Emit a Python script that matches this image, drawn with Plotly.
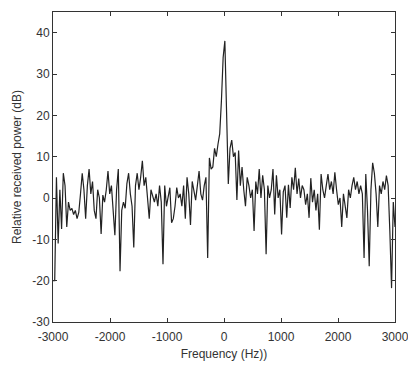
import numpy as np
import plotly.graph_objects as go

power_db = [
    -20, -20, 5, -11, 2, -7.5, 6, 3, -7, -1,
    -3, -2.5, -4, -3, -5, -3.5, 1, 6, 2, -5,
    3, 7, 1, 4, -3, -5, 2, 0, -8.7, 0.7,
    -1, 2, 6.5, 1, 3, -2, -9, 2, 7, -17.7,
    -3, -1, -2.5, 3.5, 6, 1, -2, -12, 3, 6,
    2, 5, 9, 3, 5, 0, -5, 2, 0.5, -1,
    1, -2, 3, -1, -16, 3, -2, 0, 2.5, -6,
    -5, -2, 2.5, 0, 1, -2, 3, -5, 5, 1,
    -6.5, 4, 2, -0.5, 3, 6.5, 1, -0.5, 3, 5,
    -14.5, 9.7, 7, 7.5, 12, 10, 13, 15.5, 23.5, 34,
    38,
    16, 3.4, 12, 14, 10, 11, -0.5, 11.5, 3, 7.5,
    2, -2, 5, 3, 0, 2, -8, 4, 1, 7,
    0, 5.5, 2, -13.6, 3, 0, 2, 7, -4, 5.5,
    0, 2, -8.8, 1.5, 3, -4.8, 3.2, -2.4, 5, 2,
    7.3, 1, 4.7, 0, 3, 2, -1.6, 1, -4.8, 4.8,
    -1, 2, -3, 1, -7.7, 5.8, 2, 0, 3, 5.8,
    2, 4, 1, 6.2, 2, -1.6, 0, -7, 1, -2,
    -4.8, 2, 0, 3, 5, 2, 4, 1, 3, 1,
    -14.5, 5.8, -3, -16.5, 2, 8.5, 6, 1, -7, 3,
    1, 4, 2, 5.4, 3, -8, -21.8, -1, -7,
]
freq_hz = np.linspace(-3000, 3000, len(power_db))

x_ticks = [-3000, -2000, -1000, 0, 1000, 2000, 3000]
x_labels = ["-3000", "-2000", "-1000", "0", "1000", "2000", "3000"]
y_ticks = [-30, -20, -10, 0, 10, 20, 30, 40]
y_labels = ["-30", "-20", "-10", "0", "10", "20", "30", "40"]

fig = go.Figure(go.Scatter(
    x=freq_hz, y=power_db, mode="lines",
    line=dict(color="#222222", width=1.2),
))

font = dict(family="Liberation Sans, Arial, sans-serif", size=12, color="#333333")
axis_common = dict(
    showgrid=False, zeroline=False, showline=True, linecolor="#333333", linewidth=1,
    mirror="allticks", ticks="inside", ticklen=4, tickcolor="#333333",
    tickfont=font, automargin=False,
)
# page body has an 8px default margin, so the figure is sized to fit inside the window
fig.update_layout(
    width=408, height=361,
    margin=dict(l=45, r=21, t=4, b=47),
    paper_bgcolor="white", plot_bgcolor="white",
    showlegend=False,
    font=font,
    xaxis=dict(range=[-3000, 3000], tickvals=x_ticks, ticktext=x_labels,
               ticklabelstandoff=4,
               title=dict(text="Frequency (Hz))", font=font, standoff=6), **axis_common),
    yaxis=dict(range=[-30, 45], tickvals=y_ticks, ticktext=y_labels,
               title=dict(text="Relative received power (dB)", font=font, standoff=8), **axis_common),
)
fig.write_html("out.html")
